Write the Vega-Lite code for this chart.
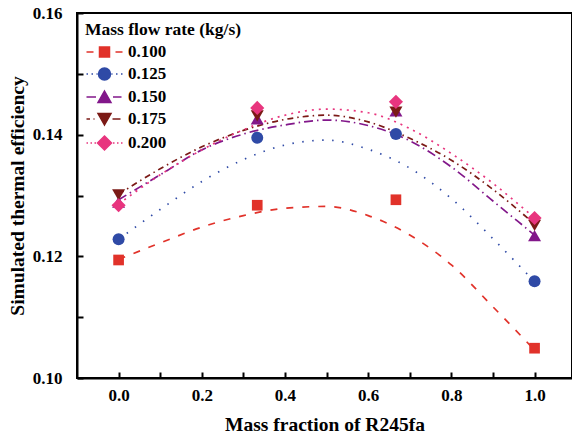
{
  "$schema": "https://vega.github.io/schema/vega-lite/v6.json",
  "width": 495,
  "height": 365,
  "autosize": {"type": "none"},
  "padding": {"left": 77, "top": 13, "right": 0, "bottom": 57},
  "background": "white",
  "config": {
    "view": {"stroke": "black", "strokeWidth": 2},
    "font": "Liberation Serif",
    "axis": {
      "grid": false,
      "domainColor": "black",
      "domainWidth": 2,
      "tickColor": "black",
      "tickWidth": 2,
      "labelFont": "Liberation Serif",
      "labelFontWeight": "bold",
      "labelFontSize": 17,
      "labelColor": "black",
      "titleFont": "Liberation Serif",
      "titleFontWeight": "bold",
      "titleFontSize": 19.5,
      "titleColor": "black"
    },
    "legend": {
      "titleFont": "Liberation Serif",
      "labelFont": "Liberation Serif"
    }
  },
  "datasets": {
    "curves": [
      {"rate": "0.100", "x": 0.0, "y": 0.1195}, {"rate": "0.100", "x": 0.1, "y": 0.1222}, {"rate": "0.100", "x": 0.2, "y": 0.1248}, {"rate": "0.100", "x": 0.3, "y": 0.1267}, {"rate": "0.100", "x": 0.4, "y": 0.1279}, {"rate": "0.100", "x": 0.5, "y": 0.1282}, {"rate": "0.100", "x": 0.6, "y": 0.1267}, {"rate": "0.100", "x": 0.7, "y": 0.1235}, {"rate": "0.100", "x": 0.8, "y": 0.1186}, {"rate": "0.100", "x": 0.9, "y": 0.1117}, {"rate": "0.100", "x": 1.0, "y": 0.1046},
      {"rate": "0.125", "x": 0.0, "y": 0.1228}, {"rate": "0.125", "x": 0.1, "y": 0.1277}, {"rate": "0.125", "x": 0.2, "y": 0.1323}, {"rate": "0.125", "x": 0.3, "y": 0.1359}, {"rate": "0.125", "x": 0.4, "y": 0.1383}, {"rate": "0.125", "x": 0.5, "y": 0.1391}, {"rate": "0.125", "x": 0.6, "y": 0.1376}, {"rate": "0.125", "x": 0.7, "y": 0.1345}, {"rate": "0.125", "x": 0.8, "y": 0.1295}, {"rate": "0.125", "x": 0.9, "y": 0.1229}, {"rate": "0.125", "x": 1.0, "y": 0.1158},
      {"rate": "0.150", "x": 0.0, "y": 0.1293}, {"rate": "0.150", "x": 0.1, "y": 0.1334}, {"rate": "0.150", "x": 0.2, "y": 0.1375}, {"rate": "0.150", "x": 0.3, "y": 0.1401}, {"rate": "0.150", "x": 0.4, "y": 0.1416}, {"rate": "0.150", "x": 0.5, "y": 0.1424}, {"rate": "0.150", "x": 0.6, "y": 0.1415}, {"rate": "0.150", "x": 0.7, "y": 0.1390}, {"rate": "0.150", "x": 0.8, "y": 0.1347}, {"rate": "0.150", "x": 0.9, "y": 0.1291}, {"rate": "0.150", "x": 1.0, "y": 0.1235},
      {"rate": "0.175", "x": 0.0, "y": 0.1302}, {"rate": "0.175", "x": 0.1, "y": 0.1344}, {"rate": "0.175", "x": 0.2, "y": 0.1380}, {"rate": "0.175", "x": 0.3, "y": 0.1407}, {"rate": "0.175", "x": 0.4, "y": 0.1425}, {"rate": "0.175", "x": 0.5, "y": 0.1432}, {"rate": "0.175", "x": 0.6, "y": 0.1421}, {"rate": "0.175", "x": 0.7, "y": 0.1394}, {"rate": "0.175", "x": 0.8, "y": 0.1358}, {"rate": "0.175", "x": 0.9, "y": 0.1310}, {"rate": "0.175", "x": 1.0, "y": 0.1253},
      {"rate": "0.200", "x": 0.0, "y": 0.1286}, {"rate": "0.200", "x": 0.1, "y": 0.1334}, {"rate": "0.200", "x": 0.2, "y": 0.1375}, {"rate": "0.200", "x": 0.3, "y": 0.1408}, {"rate": "0.200", "x": 0.4, "y": 0.1432}, {"rate": "0.200", "x": 0.5, "y": 0.1442}, {"rate": "0.200", "x": 0.6, "y": 0.1436}, {"rate": "0.200", "x": 0.7, "y": 0.1410}, {"rate": "0.200", "x": 0.8, "y": 0.1369}, {"rate": "0.200", "x": 0.9, "y": 0.1320}, {"rate": "0.200", "x": 1.0, "y": 0.1263}
    ],
    "points": [
      {"rate": "0.100", "x": 0.0, "y": 0.1194}, {"rate": "0.100", "x": 0.3333, "y": 0.1284}, {"rate": "0.100", "x": 0.6667, "y": 0.1293}, {"rate": "0.100", "x": 1.0, "y": 0.1049},
      {"rate": "0.125", "x": 0.0, "y": 0.1228}, {"rate": "0.125", "x": 0.3333, "y": 0.1395}, {"rate": "0.125", "x": 0.6667, "y": 0.1401}, {"rate": "0.125", "x": 1.0, "y": 0.1159},
      {"rate": "0.150", "x": 0.0, "y": 0.1289}, {"rate": "0.150", "x": 0.3333, "y": 0.1426}, {"rate": "0.150", "x": 0.6667, "y": 0.1439}, {"rate": "0.150", "x": 1.0, "y": 0.1234},
      {"rate": "0.175", "x": 0.0, "y": 0.1301}, {"rate": "0.175", "x": 0.3333, "y": 0.1431}, {"rate": "0.175", "x": 0.6667, "y": 0.1437}, {"rate": "0.175", "x": 1.0, "y": 0.1251},
      {"rate": "0.200", "x": 0.0, "y": 0.1284}, {"rate": "0.200", "x": 0.3333, "y": 0.1444}, {"rate": "0.200", "x": 0.6667, "y": 0.1454}, {"rate": "0.200", "x": 1.0, "y": 0.1263}
    ]
  },
  "encoding": {
    "x": {
      "field": "x", "type": "quantitative",
      "scale": {"domain": [-0.1, 1.09], "nice": false, "zero": false},
      "axis": {
        "title": "Mass fraction of R245fa",
        "values": [0, 0.1, 0.2, 0.3, 0.4, 0.5, 0.6, 0.7, 0.8, 0.9, 1.0],
        "labelExpr": "round(datum.value*10) % 2 == 0 ? format(datum.value, '.1f') : ''",
        "tickSize": -6,
        "labelPadding": 15,
        "titlePadding": 12
      }
    },
    "y": {
      "field": "y", "type": "quantitative",
      "scale": {"domain": [0.10, 0.16], "nice": false, "zero": false},
      "axis": {
        "title": "Simulated thermal efficiency",
        "values": [0.10, 0.11, 0.12, 0.13, 0.14, 0.15, 0.16],
        "labelExpr": "round(datum.value*100) % 2 == 0 ? format(datum.value, '.2f') : ''",
        "tickSize": -6,
        "labelPadding": 21,
        "titlePadding": 5
      }
    }
  },
  "layer": [
    {
      "data": {"name": "curves"},
      "mark": {"type": "line", "interpolate": "monotone", "strokeWidth": 1.7},
      "encoding": {
        "color": {
          "field": "rate", "type": "nominal", "legend": null,
          "scale": {"range": ["#e1322a", "#2f4aa6", "#82178a", "#7b1a16", "#e8357e"]}
        },
        "strokeDash": {
          "field": "rate", "type": "nominal", "legend": null,
          "scale": {"range": [[7, 9], [1.5, 8.5], [9, 4, 1.5, 4], [6, 4, 1.5, 4], [2, 5]]}
        }
      }
    },
    {
      "data": {"name": "points"},
      "transform": [{"filter": "datum.rate == '0.100'"}],
      "mark": {"type": "point", "shape": "square", "filled": true, "opacity": 1, "size": 114},
      "encoding": {"color": {"field": "rate", "type": "nominal", "legend": null}}
    },
    {
      "data": {"name": "points"},
      "transform": [{"filter": "datum.rate == '0.125'"}],
      "mark": {"type": "point", "shape": "circle", "filled": true, "opacity": 1, "size": 144},
      "encoding": {"color": {"field": "rate", "type": "nominal", "legend": null}}
    },
    {
      "data": {"name": "points"},
      "transform": [{"filter": "datum.rate == '0.150'"}],
      "mark": {"type": "point", "shape": "triangle-up", "filled": true, "opacity": 1, "size": 169},
      "encoding": {"color": {"field": "rate", "type": "nominal", "legend": null}}
    },
    {
      "data": {"name": "points"},
      "transform": [{"filter": "datum.rate == '0.175'"}],
      "mark": {"type": "point", "shape": "triangle-down", "filled": true, "opacity": 1, "size": 169},
      "encoding": {"color": {"field": "rate", "type": "nominal", "legend": null}}
    },
    {
      "data": {"name": "points"},
      "transform": [{"filter": "datum.rate == '0.200'"}],
      "mark": {"type": "point", "shape": "diamond", "filled": true, "opacity": 1, "size": 200},
      "encoding": {"color": {"field": "rate", "type": "nominal", "legend": null}}
    },
    {
      "data": {"name": "points"},
      "transform": [{"filter": "false"}],
      "mark": {"type": "point", "filled": true, "opacity": 1, "size": 100, "strokeWidth": 1.5},
      "encoding": {
        "fill": {
          "field": "rate", "type": "nominal",
          "scale": {"domain": ["0.100", "0.125", "0.150", "0.175", "0.200"], "range": ["#e1322a", "#2f4aa6", "#82178a", "#7b1a16", "#e8357e"]},
          "legend": {
            "title": "Mass flow rate (kg/s)",
            "orient": "top-left", "offset": 8,
            "symbolOpacity": 1, "symbolSize": 100, "symbolStrokeWidth": 1.5,
            "symbolOffset": 11, "labelOffset": 15, "rowPadding": 4,
            "titleFontSize": 17.5, "titleFontWeight": "bold", "titleColor": "black", "titlePadding": 5,
            "labelFontSize": 17, "labelFontWeight": "bold", "labelColor": "black"
          }
        },
        "stroke": {
          "field": "rate", "type": "nominal",
          "scale": {"domain": ["0.100", "0.125", "0.150", "0.175", "0.200"], "range": ["#e1322a", "#2f4aa6", "#82178a", "#7b1a16", "#e8357e"]}
        },
        "shape": {
          "field": "rate", "type": "nominal",
          "scale": {
            "domain": ["0.100", "0.125", "0.150", "0.175", "0.200"],
            "range": [
              "M-3.6,0H-2.2M2.2,0H3.6M-1,-1H1V1H-1Z",
              "M-3.6,0H-3.3M-2.6,0H-2.3M-1.6,0H-1.4M1.4,0H1.6M2.3,0H2.6M3.3,0H3.6M1.2,0A1.2,1.2,0,1,1,-1.2,0A1.2,1.2,0,1,1,1.2,0Z",
              "M-3.6,0H-1.7M1.7,0H3.4M0,-1.2L1.3,1.1H-1.3Z",
              "M-3.6,0H-2.9M-2.2,0H-2M1.6,0H3.2M0,1.2L1.3,-1.1H-1.3Z",
              "M-3.6,0H-3.3M-2.8,0H-2.5M-2,0H-1.7M1.7,0H2M2.5,0H2.8M3.3,0H3.6M0,-1.4L1.4,0L0,1.4L-1.4,0Z"
            ]
          }
        }
      }
    }
  ]
}
